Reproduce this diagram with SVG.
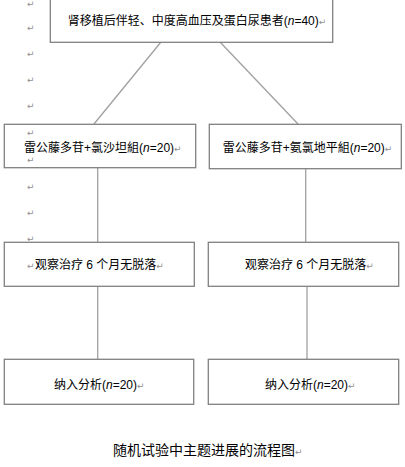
<svg xmlns="http://www.w3.org/2000/svg" width="405" height="467" viewBox="0 0 405 467">
<style>
.box{fill:#fff;stroke:#808080;stroke-width:1.3}
.con{stroke:#a0a0a0;stroke-width:1.3;fill:none}
.t{font-family:"Liberation Sans","Noto Sans CJK SC",sans-serif;font-size:12px;fill:#000}
.cap{font-family:"Liberation Sans","Noto Sans CJK SC",sans-serif;font-size:14px;fill:#000}
.m{font-family:"DejaVu Sans",sans-serif;font-size:9px;fill:#909090}
.i{font-style:italic}
</style>
<rect width="405" height="467" fill="#fff"/>
<g id="marks">
<text class="m" x="27" y="7">↵</text>
<text class="m" x="27" y="31">↵</text>
<text class="m" x="27" y="57">↵</text>
<text class="m" x="27" y="83">↵</text>
<text class="m" x="27" y="109">↵</text>
<text class="m" x="27" y="190">↵</text>
<text class="m" x="27" y="216">↵</text>
<text class="m" x="27" y="242">↵</text>
</g>
<g id="connectors">
<line class="con" x1="161" y1="42" x2="94" y2="124"/>
<line class="con" x1="220" y1="42" x2="298" y2="124"/>
<line class="con" x1="97.7" y1="168" x2="97.7" y2="242"/>
<line class="con" x1="305.7" y1="169" x2="305.7" y2="242"/>
<line class="con" x1="97.7" y1="286" x2="97.7" y2="359"/>
<line class="con" x1="307" y1="286" x2="307" y2="359"/>
</g>
<g id="n0">
<rect class="box" x="50.3" y="-2" width="282.4" height="44.3"/>
<text class="t" x="67.7" y="25">肾移植后伴轻、中度高血压及蛋白尿患者(<tspan class="i">n</tspan>=40)<tspan class="m">↵</tspan></text>
</g>
<g id="n1">
<rect class="box" x="4.3" y="124.3" width="191.4" height="43.4"/>
<text class="m" x="27" y="136">↵</text>
<text class="t" x="24" y="152">雷公藤多苷+氯沙坦組(<tspan class="i">n</tspan>=20)<tspan class="m">↵</tspan></text>
<text class="m" x="27" y="163">↵</text>
</g>
<g id="n2">
<rect class="box" x="209.3" y="124.3" width="192" height="44.4"/>
<text class="t" x="222.7" y="152">雷公藤多苷+氨氯地平組(<tspan class="i">n</tspan>=20)<tspan class="m">↵</tspan></text>
</g>
<g id="n3">
<rect class="box" x="4.3" y="242.3" width="190" height="44"/>
<text class="t" x="27" y="269"><tspan class="m">↵</tspan><tspan x="35">观察治疗 6 个月无脱落</tspan><tspan class="m">↵</tspan></text>
</g>
<g id="n4">
<rect class="box" x="208.3" y="242.3" width="190.4" height="44"/>
<text class="t" x="245" y="269">观察治疗 6 个月无脱落<tspan class="m">↵</tspan></text>
</g>
<g id="n5">
<rect class="box" x="4.3" y="359.3" width="189.4" height="45"/>
<text class="t" x="54" y="389">纳入分析(<tspan class="i">n</tspan>=20)<tspan class="m">↵</tspan></text>
</g>
<g id="n6">
<rect class="box" x="208.3" y="359.3" width="190.4" height="45"/>
<text class="t" x="265" y="389">纳入分析(<tspan class="i">n</tspan>=20)<tspan class="m">↵</tspan></text>
</g>
<g id="caption">
<text class="cap" x="113" y="455">随机试验中主题进展的流程图<tspan class="m">↵</tspan></text>
</g>
</svg>
